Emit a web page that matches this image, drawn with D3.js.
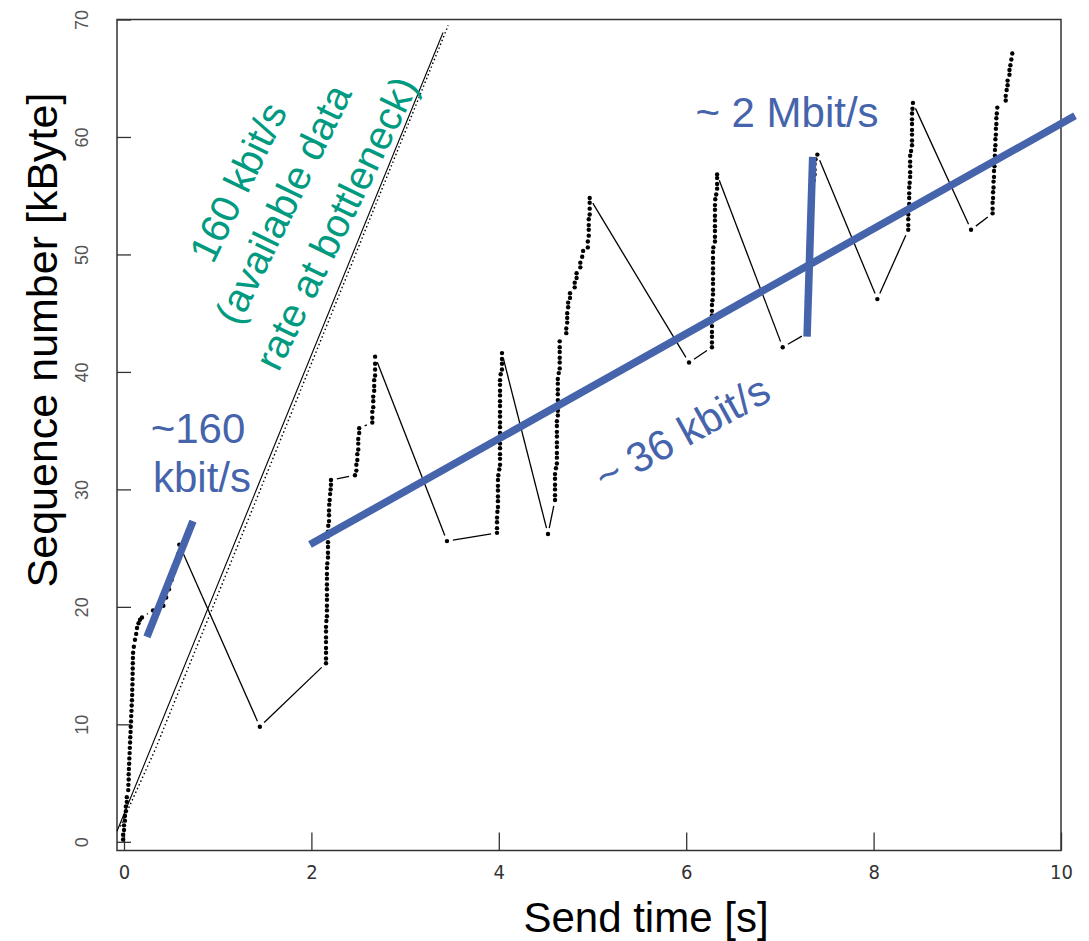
<!DOCTYPE html>
<html>
<head>
<meta charset="utf-8">
<script src="https://cdn.jsdelivr.net/npm/d3@7"></script>
<style>
  body { margin: 0; background: #fff; }
  svg { display: block; font-family: "Liberation Sans", Arial, sans-serif; }
</style>
</head>
<body>
<svg id="chart"></svg>
<script>
// Canvas
const width = 1089;
const height = 941;
const box = { left: 117, right: 1061, top: 19.5, bottom: 850.5 };

// Tick labels
const xTicks = [0, 2, 4, 6, 8, 10];
const yTicks = [0, 10, 20, 30, 40, 50, 60, 70];

// Trace: [send time (s), sequence number (kByte)], in send order
const burst1 = [[-0.01,0.2],[-0.01,0.6],[0.0,1.0],[0.0,1.4],[0.01,1.8],[0.01,2.2],[0.02,2.6],[0.02,3.0],[0.03,3.4],[0.03,3.8]];
const burst2 = [[0.045,4.4],[0.047,4.85],[0.05,5.3],[0.05,5.75],[0.052,6.2],[0.055,6.65],[0.057,7.1],[0.06,7.55],[0.062,8.0],[0.065,8.45],[0.067,8.9],[0.07,9.35],[0.072,9.8],[0.075,10.25],[0.077,10.7],[0.08,11.15],[0.082,11.6],[0.085,12.05],[0.087,12.5],[0.088,12.95],[0.09,13.4],[0.091,13.85],[0.092,14.3],[0.093,14.75],[0.094,15.2],[0.095,15.65],[0.097,16.1],[0.105,16.6],[0.117,17.2],[0.13,17.7],[0.139,18.2],[0.155,18.6],[0.171,18.9],[0.192,19.1]];
const burst3 = [[0.31,19.7],[0.36,19.9],[0.42,20.1],[0.45,20.8],[0.48,21.5],[0.51,22.3],[0.54,23.1],[0.56,23.8],[0.58,24.5],[0.59,25.3]];
const retx1 = [[1.45,9.8]];
const burst4 = [[2.156,15.2],[2.156,15.6],[2.156,16.1],[2.156,16.5],[2.156,17.0],[2.156,17.4],[2.156,17.9],[2.156,18.3],[2.16,18.8],[2.166,19.2],[2.166,19.7],[2.166,20.1],[2.166,20.6],[2.166,21.0],[2.166,21.5],[2.166,21.9],[2.166,22.4],[2.166,22.8],[2.166,23.3],[2.17,23.7],[2.177,24.2],[2.177,24.6],[2.177,25.1],[2.177,25.5],[2.177,26.0],[2.177,26.4],[2.18,26.9],[2.188,27.3],[2.188,27.8],[2.188,28.2],[2.19,28.7],[2.195,29.1],[2.2,29.6],[2.205,30.0],[2.209,30.4],[2.209,30.8]];
const burst5 = [[2.465,31.2],[2.48,31.6],[2.48,32.1],[2.49,32.5],[2.49,33.0],[2.5,33.4],[2.5,33.9],[2.5,34.3],[2.51,34.8],[2.51,35.2],[2.65,35.7],[2.65,36.1],[2.65,36.6],[2.66,37.0],[2.66,37.5],[2.66,37.9],[2.67,38.4],[2.67,38.8],[2.67,39.3],[2.68,39.7],[2.68,40.2],[2.68,40.7],[2.68,41.3]];
const retx2 = [[3.447,25.6]];
const burst6 = [[3.981,26.3],[3.981,26.7],[3.981,27.2],[3.981,27.6],[3.985,28.1],[3.991,28.5],[3.991,29.0],[3.991,29.4],[3.991,29.9],[3.991,30.3],[3.991,30.8],[3.995,31.2],[4.005,31.7],[4.013,32.1],[4.013,32.6],[4.013,33.0],[4.013,33.5],[4.013,33.9],[4.013,34.4],[4.013,34.8],[4.013,35.3],[4.013,35.7],[4.013,36.2],[4.013,36.6],[4.013,37.1],[4.013,37.5],[4.013,38.0],[4.013,38.4],[4.013,38.9],[4.013,39.3],[4.02,39.8],[4.034,40.2],[4.034,40.7],[4.034,41.1],[4.034,41.6]];
const retx3 = [[4.525,26.2]];
const burst7 = [[4.6,29.1],[4.6,29.5],[4.6,30.0],[4.6,30.4],[4.6,30.9],[4.6,31.3],[4.61,31.8],[4.62,32.2],[4.62,32.7],[4.62,33.1],[4.62,33.6],[4.62,34.0],[4.62,34.5],[4.62,34.9],[4.62,35.4],[4.62,35.8],[4.63,36.3],[4.63,36.7],[4.63,37.2],[4.63,37.6],[4.63,38.1],[4.63,38.5],[4.63,39.0],[4.63,39.4],[4.64,39.9],[4.65,40.3],[4.65,40.8],[4.65,41.2],[4.65,41.7],[4.65,42.1],[4.65,42.6],
  [4.72,43.3],[4.72,43.7],[4.73,44.2],[4.73,44.6],[4.73,45.0],[4.74,45.5],[4.74,45.9],[4.76,46.3],[4.76,46.7],[4.81,47.2],[4.81,47.6],[4.83,48.0],[4.83,48.4],[4.87,48.9],[4.87,49.3],[4.89,49.8],[4.9,50.3],[4.95,50.6],[4.95,51.1],[4.96,51.6],[4.96,52.1],[4.96,52.5],[4.96,53.0],[4.97,53.4],[4.97,53.9],[4.97,54.4],[4.97,54.8]];
const retx4 = [[6.03,40.8]];
const burst8 = [[6.275,42.1],[6.275,42.5],[6.275,43.0],[6.275,43.4],[6.275,43.9],[6.275,44.3],[6.275,44.8],[6.275,45.2],[6.275,45.7],[6.28,46.1],[6.286,46.6],[6.286,47.0],[6.286,47.5],[6.286,47.9],[6.286,48.4],[6.286,48.8],[6.286,49.3],[6.286,49.7],[6.286,50.2],[6.29,50.6],[6.307,51.1],[6.307,51.5],[6.307,52.0],[6.307,52.4],[6.307,52.9],[6.307,53.3],[6.307,53.8],[6.307,54.2],[6.31,54.7],[6.32,55.1],[6.33,55.6],[6.33,56.0],[6.33,56.5],[6.33,56.8]];
const retx5 = [[7.03,42.1]];
const burst9 = [[7.29,43.3],[7.29,43.7],[7.29,44.2],[7.29,44.6],[7.29,45.1],[7.29,45.5],[7.29,46.0],[7.29,46.4],[7.29,46.9],[7.295,47.3],[7.3,47.8],[7.3,48.2],[7.3,48.7],[7.31,49.1],[7.31,49.6],[7.31,50.0],[7.31,50.5],[7.31,50.9],[7.32,51.4],[7.32,51.8],[7.32,52.3],[7.32,52.7],[7.33,53.2],[7.34,53.6],[7.34,54.1],[7.34,54.5],[7.35,55.0],[7.35,55.4],[7.35,55.9],[7.36,56.3],[7.37,56.8],[7.37,57.2],[7.37,57.7],[7.38,58.1],[7.4,58.5]];
const retx6 = [[8.04,46.2]];
const burst10 = [[8.37,52.1],[8.37,52.5],[8.37,53.0],[8.37,53.4],[8.37,53.9],[8.38,54.3],[8.38,54.8],[8.38,55.2],[8.38,55.7],[8.385,56.1],[8.39,56.6],[8.39,57.0],[8.39,57.5],[8.39,57.9],[8.39,58.4],[8.4,58.8],[8.41,59.3],[8.41,59.7],[8.41,60.2],[8.41,60.6],[8.41,61.1],[8.41,61.5],[8.41,62.0],[8.415,62.4],[8.42,62.9]];
const retx7 = [[9.04,52.1]];
const burst11 = [[9.27,53.5],[9.27,53.9],[9.27,54.4],[9.275,54.8],[9.275,55.3],[9.28,55.7],[9.28,56.2],[9.285,56.6],[9.285,57.1],[9.29,57.5],[9.29,58.0],[9.295,58.4],[9.295,58.9],[9.3,59.3],[9.3,59.8],[9.305,60.2],[9.305,60.7],[9.31,61.1],[9.31,61.6],[9.315,62.0],[9.32,62.5],
  [9.41,63.1],[9.41,63.5],[9.42,64.0],[9.43,64.4],[9.43,64.8],[9.45,65.3],[9.45,65.7],[9.46,66.1],[9.47,66.6],[9.48,67.1]];

// Reference lines for the bottleneck rate
const bottleneckSolid = [[-0.075,0.9],[3.405,68.9]];
const bottleneckDotted = [[-0.04,1.3],[0.33,7.8],[3.46,69.5]];

// Hand-drawn rate markers
const rateInitial = [[0.245,17.45],[0.736,27.3]];
const rateAverage = [[1.985,25.3],[10.15,61.8]];
const rateBurst = [[7.29,43.0],[7.35,58.3]];

const trace = [].concat(burst1, burst2, burst3, retx1, burst4, burst5, retx2, burst6,
  retx3, burst7, retx4, burst8, retx5, burst9, retx6, burst10, retx7, burst11);

const blue = "#4664ab";
const green = "#009a80";

const svg = d3.select("#chart")
  .attr("width", width)
  .attr("height", height);

// Scales
const x = d3.scaleLinear().domain([-0.0747, 10]).range([box.left, box.right]);
const y = d3.scaleLinear().domain([-0.74, 70]).range([box.bottom, box.top]);

// Axes (ticks point inwards)
const xAxis = svg.append("g")
  .attr("transform", `translate(0,${box.bottom})`)
  .call(d3.axisBottom(x).tickValues(xTicks).tickSizeInner(-18).tickSizeOuter(0).tickFormat(d3.format("d")));
xAxis.select(".domain").remove();
xAxis.selectAll(".tick line").attr("stroke", "#333").attr("stroke-width", 1.3);
xAxis.selectAll(".tick text")
  .attr("y", 28)
  .attr("dy", 0)
  .attr("fill", "#333")
  .style("font-family", "'Liberation Sans Narrow', 'Arial Narrow', 'DejaVu Sans Condensed', sans-serif")
  .style("font-stretch", "condensed")
  .style("font-size", "20px");

const yAxis = svg.append("g")
  .attr("transform", `translate(${box.left},0)`)
  .call(d3.axisLeft(y).tickValues(yTicks).tickSizeInner(-14).tickSizeOuter(0));
yAxis.select(".domain").remove();
yAxis.selectAll(".tick line").attr("stroke", "#333").attr("stroke-width", 1.3);
yAxis.selectAll(".tick text")
  .attr("x", 0)
  .attr("dy", 0)
  .attr("transform", "translate(-29,0) rotate(-90)")
  .attr("text-anchor", "middle")
  .attr("fill", "#555")
  .style("font-family", "'Liberation Sans', Arial, sans-serif")
  .style("font-size", "18px");

// Frame
svg.append("rect")
  .attr("x", box.left)
  .attr("y", box.top)
  .attr("width", box.right - box.left)
  .attr("height", box.bottom - box.top)
  .attr("fill", "none")
  .attr("stroke", "#333")
  .attr("stroke-width", 1.5);

// Bottleneck lines
const line = d3.line().x(d => x(d[0])).y(d => y(d[1]));
svg.append("path")
  .attr("d", line(bottleneckSolid))
  .attr("fill", "none")
  .attr("stroke", "#000")
  .attr("stroke-width", 1.1);
svg.append("path")
  .attr("d", line(bottleneckDotted))
  .attr("fill", "none")
  .attr("stroke", "#000")
  .attr("stroke-width", 1.4)
  .attr("stroke-dasharray", "1.5,2.6");

// Trace: points joined by lines that stop short of each point
const gap = 6;
const segs = [];
for (let i = 1; i < trace.length; i++) {
  const x1 = x(trace[i - 1][0]), y1 = y(trace[i - 1][1]);
  const x2 = x(trace[i][0]), y2 = y(trace[i][1]);
  const len = Math.hypot(x2 - x1, y2 - y1);
  if (len <= 2 * gap + 1) continue;
  const ux = (x2 - x1) / len, uy = (y2 - y1) / len;
  segs.push([x1 + ux * gap, y1 + uy * gap, x2 - ux * gap, y2 - uy * gap]);
}
svg.append("g").selectAll("line")
  .data(segs)
  .enter()
  .append("line")
  .attr("x1", d => d[0]).attr("y1", d => d[1])
  .attr("x2", d => d[2]).attr("y2", d => d[3])
  .attr("stroke", "#000")
  .attr("stroke-width", 1.3);

svg.append("g").selectAll("circle")
  .data(trace)
  .enter()
  .append("circle")
  .attr("cx", d => x(d[0]))
  .attr("cy", d => y(d[1]))
  .attr("r", 2.2)
  .attr("fill", "#000");

// Rate markers
[rateInitial, rateAverage, rateBurst].forEach(seg => {
  svg.append("path")
    .attr("d", line(seg))
    .attr("fill", "none")
    .attr("stroke", blue)
    .attr("stroke-width", 7.5);
});

// Annotations
const note = (txt, tx, ty, rot, color, size) => {
  svg.append("text")
    .attr("transform", `translate(${tx},${ty}) rotate(${rot})`)
    .attr("dy", "0.35em")
    .attr("text-anchor", "middle")
    .attr("fill", color)
    .style("font-size", size + "px")
    .text(txt);
};
note("160 kbit/s", 238, 182, -64, green, 40);
note("(available data", 283, 204, -64, green, 40);
note("rate at bottleneck)", 336, 223, -64, green, 40);

svg.append("text").attr("x", 198).attr("y", 443).attr("text-anchor", "middle")
  .attr("fill", blue).style("font-size", "42px").text("~160");
svg.append("text").attr("x", 202).attr("y", 492).attr("text-anchor", "middle")
  .attr("fill", blue).style("font-size", "42px").text("kbit/s");
svg.append("text").attr("x", 787).attr("y", 127).attr("text-anchor", "middle")
  .attr("fill", blue).style("font-size", "42px").text("~ 2 Mbit/s");
note("~ 36 kbit/s", 682, 433, -29, blue, 42);

// Axis titles
svg.append("text")
  .attr("x", 646)
  .attr("y", 932)
  .attr("text-anchor", "middle")
  .style("font-size", "42px")
  .text("Send time [s]");
svg.append("text")
  .attr("transform", "translate(57,340) rotate(-90)")
  .attr("text-anchor", "middle")
  .style("font-size", "43px")
  .text("Sequence number [kByte]");
</script>
</body>
</html>
